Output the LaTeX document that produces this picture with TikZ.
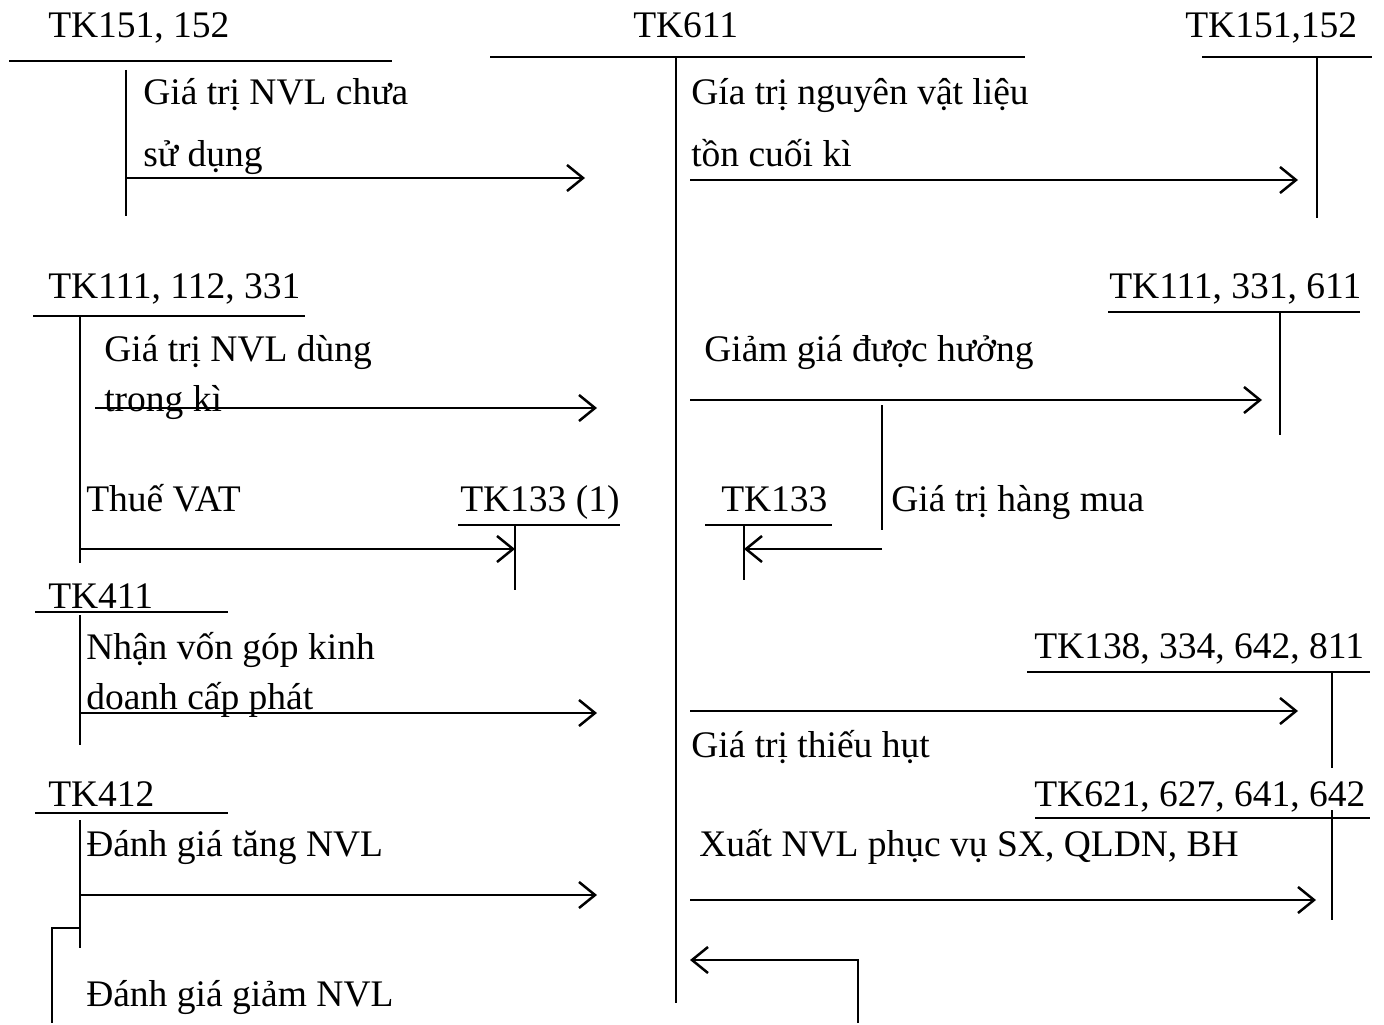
\documentclass[tikz,border=0pt]{standalone}
\usepackage{fontspec}
\setmainfont{Liberation Serif}
\usetikzlibrary{arrows.meta}
\begin{document}
\begin{tikzpicture}[x=1pt,y=-1pt,line width=2.5pt,
  lbl/.style={anchor=base west,inner sep=0pt,font=\fontsize{37.5}{45}\selectfont},
  flow/.style={-{Straight Barb[length=16pt,width=26pt,line width=2.5pt]}}]
\useasboundingbox (0,0) rectangle (1384,1025);

% ---- account headings ----
\node[lbl] (a151) at (47,38) {TK151, 152};
\node[lbl] (a611) at (632,38) {TK611};
\node[lbl] (b151) at (1184,38) {TK151,152};
\node[lbl] (a111) at (47,298) {TK111, 112, 331};
\node[lbl] (b111) at (1108,298) {TK111, 331, 611};
\node[lbl] (a133) at (459,511) {TK133 (1)};
\node[lbl] (b133) at (720,511) {TK133};
\node[lbl] (a411) at (47,608) {TK411};
\node[lbl] (a138) at (1033,658) {TK138, 334, 642, 811};
\node[lbl] (a412) at (47,806) {TK412};
\node[lbl] (a621) at (1033,806) {TK621, 627, 641, 642};

% ---- T-account bars ----
\draw (9,61) -- (392,61);   \draw (126,70) -- (126,216);
\draw (490,57) -- (1025,57); \draw (676,57) -- (676,1003);
\draw (1202,57) -- (1372,57); \draw (1317,57) -- (1317,218);
\draw (33,316) -- (305,316); \draw (80,316) -- (80,563);
\draw (1108,312) -- (1360,312); \draw (1280,312) -- (1280,435);
\draw (458,525) -- (620,525); \draw (515,525) -- (515,590);
\draw (705,525) -- (832,525); \draw (744,525) -- (744,580);
\draw (35,612) -- (228,612); \draw (80,615) -- (80,745);
\draw (1027,672) -- (1370,672); \draw (1332,672) -- (1332,768);
\draw (35,813) -- (228,813); \draw (80,820) -- (80,948);
\draw (1035,818) -- (1370,818); \draw (1332,810) -- (1332,920);
\draw (882,405) -- (882,530);

% ---- descriptions ----
\node[lbl] (t1) at (142,104) {Giá trị NVL chưa};
\node[lbl] (t1b) at (142,166) {sử dụng};
\node[lbl] (t2) at (690,104) {Gía trị nguyên vật liệu};
\node[lbl] (t2b) at (690,166) {tồn cuối kì};
\node[lbl] (t3) at (103,361) {Giá trị NVL dùng};
\node[lbl] (t3b) at (103,411) {trong kì};
\node[lbl] (t4) at (703,361) {Giảm giá được hưởng};
\node[lbl] (t5) at (85,511) {Thuế VAT};
\node[lbl] (t6) at (890,511) {Giá trị hàng mua};
\node[lbl] (t7) at (85,659) {Nhận vốn góp kinh};
\node[lbl] (t7b) at (85,709) {doanh cấp phát};
\node[lbl] (t8) at (690,757) {Giá trị thiếu hụt};
\node[lbl] (t9) at (85,856) {Đánh giá tăng NVL};
\node[lbl] (t10) at (698,856) {Xuất NVL phục vụ SX, QLDN, BH};
\node[lbl] (t11) at (85,1006) {Đánh giá giảm NVL};

% ---- flow end points ----
\coordinate (p1s) at (126,178);  \coordinate (p1e) at (585,178);
\coordinate (p2s) at (690,180);  \coordinate (p2e) at (1298,180);
\coordinate (p3s) at (95,408);   \coordinate (p3e) at (597,408);
\coordinate (p4s) at (690,400);  \coordinate (p4e) at (1262,400);
\coordinate (p5s) at (80,549);   \coordinate (p5e) at (515,549);
\coordinate (p6s) at (882,549);  \coordinate (p6e) at (744,549);
\coordinate (p7s) at (80,713);   \coordinate (p7e) at (597,713);
\coordinate (p8s) at (690,711);  \coordinate (p8e) at (1298,711);
\coordinate (p9s) at (80,895);   \coordinate (p9e) at (597,895);
\coordinate (p10s) at (690,900); \coordinate (p10e) at (1316,900);
\coordinate (p11s) at (80,928);  \coordinate (p11e) at (52,1023);
\coordinate (p12s) at (858,1023); \coordinate (p12e) at (690,960);

% ---- flows ----
\draw[flow] (p1s) -- (p1e);
\draw[flow] (p2s) -- (p2e);
\draw[flow] (p3s) -- (p3e);
\draw[flow] (p4s) -- (p4e);
\draw[flow] (p5s) -- (p5e);
\draw[flow] (p6s) -- (p6e);
\draw[flow] (p7s) -- (p7e);
\draw[flow] (p8s) -- (p8e);
\draw[flow] (p9s) -- (p9e);
\draw[flow] (p10s) -- (p10e);
\draw (p11s) -| (p11e);
\draw[flow] (p12s) |- (p12e);
\end{tikzpicture}
\end{document}
